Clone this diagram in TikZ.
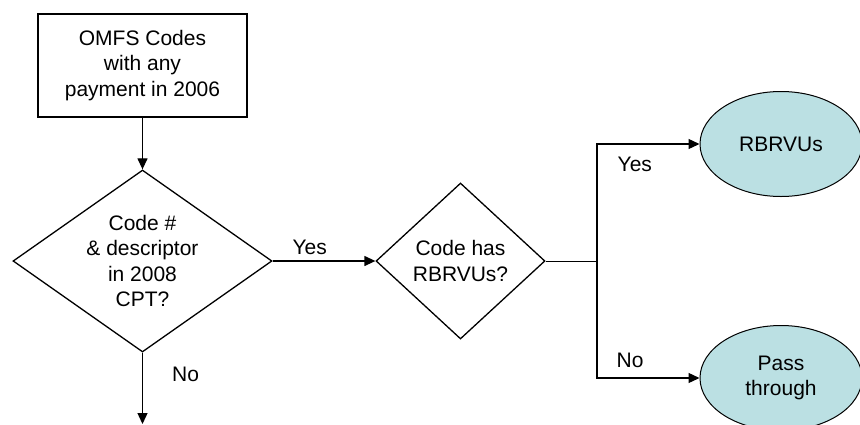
\documentclass[tikz,border=0pt]{standalone}
\usepackage{fontspec}
\setmainfont{Liberation Sans}
\usetikzlibrary{arrows.meta}
\usetikzlibrary{positioning}
\usetikzlibrary{shapes.geometric}
\definecolor{paleteal}{RGB}{187,224,227}
\tikzset {
  flow path/.style = {
    draw = black,
    line width = 1.3pt
  },
  % path style with an arrow at its end
  arr/.style = {
    flow path,
    -{Triangle[length=11pt,width=10pt]}
  },
  % path style with no arrows
  narr/.style = {
    flow path
  }
}
\tikzset {
  flow node/.style = {
    draw = black,
    line width = 1.3pt,
    font = \fontsize{21}{25.5}\selectfont,
    align = center,
    inner sep = 0
  },
  % start box
  startbox/.style = {
    flow node,
    rectangle,
    minimum width = 209pt,
    minimum height = 103pt
  },
  % decision symbol
  decision/.style = {
    flow node,
    diamond
  },
  % result symbol
  result/.style = {
    flow node,
    ellipse,
    line width = 1pt,
    fill = paleteal,
    minimum width = 162pt,
    minimum height = 105pt
  },
  lbl/.style = {
    font = \fontsize{21}{25.5}\selectfont,
    inner sep = 0
  }
}
\begin{document}
\begin{tikzpicture}[x=1pt, y=-1pt]
    \useasboundingbox (0,0) rectangle (860,424);

    \node[startbox] (omfs) at (142.5,65.5) {OMFS Codes\\with any\\payment in 2006};
    \node[decision, aspect=1.42, minimum width=259pt, minimum height=182pt]
      (in-cpt) at (142.5,261) {Code \#\\\& descriptor\\in 2008\\CPT?};
    \node[decision, aspect=1.08, minimum width=169pt, minimum height=156pt]
      (has-rbrvu) at (460.5,261) {Code has\\RBRVUs?};
    \coordinate (split) at (597,261);
    \node[result] (rbrvus) at (781,144) {RBRVUs};
    \node[result] (pass) at (781,378) {Pass\\through};
    \coordinate (cpt-exit) at (142.5,424);

    \draw[arr]  (omfs) -- (in-cpt);
    \draw[arr]  (in-cpt) -- (has-rbrvu)
      node[lbl, pos=0.36, above=6pt] {Yes};
    \draw[arr]  (in-cpt) -- (cpt-exit)
      node[lbl, pos=0.3, right=29pt] {No};
    \draw[narr, line width=1pt] (has-rbrvu) -- (split);
    \draw[arr]  (split) |- (rbrvus)
      node[lbl, pos=0.5, below right=12pt and 20pt] {Yes};
    \draw[arr]  (split) |- (pass)
      node[lbl, pos=0.5, above right=10pt and 19pt] {No};

\end{tikzpicture}
\end{document}
